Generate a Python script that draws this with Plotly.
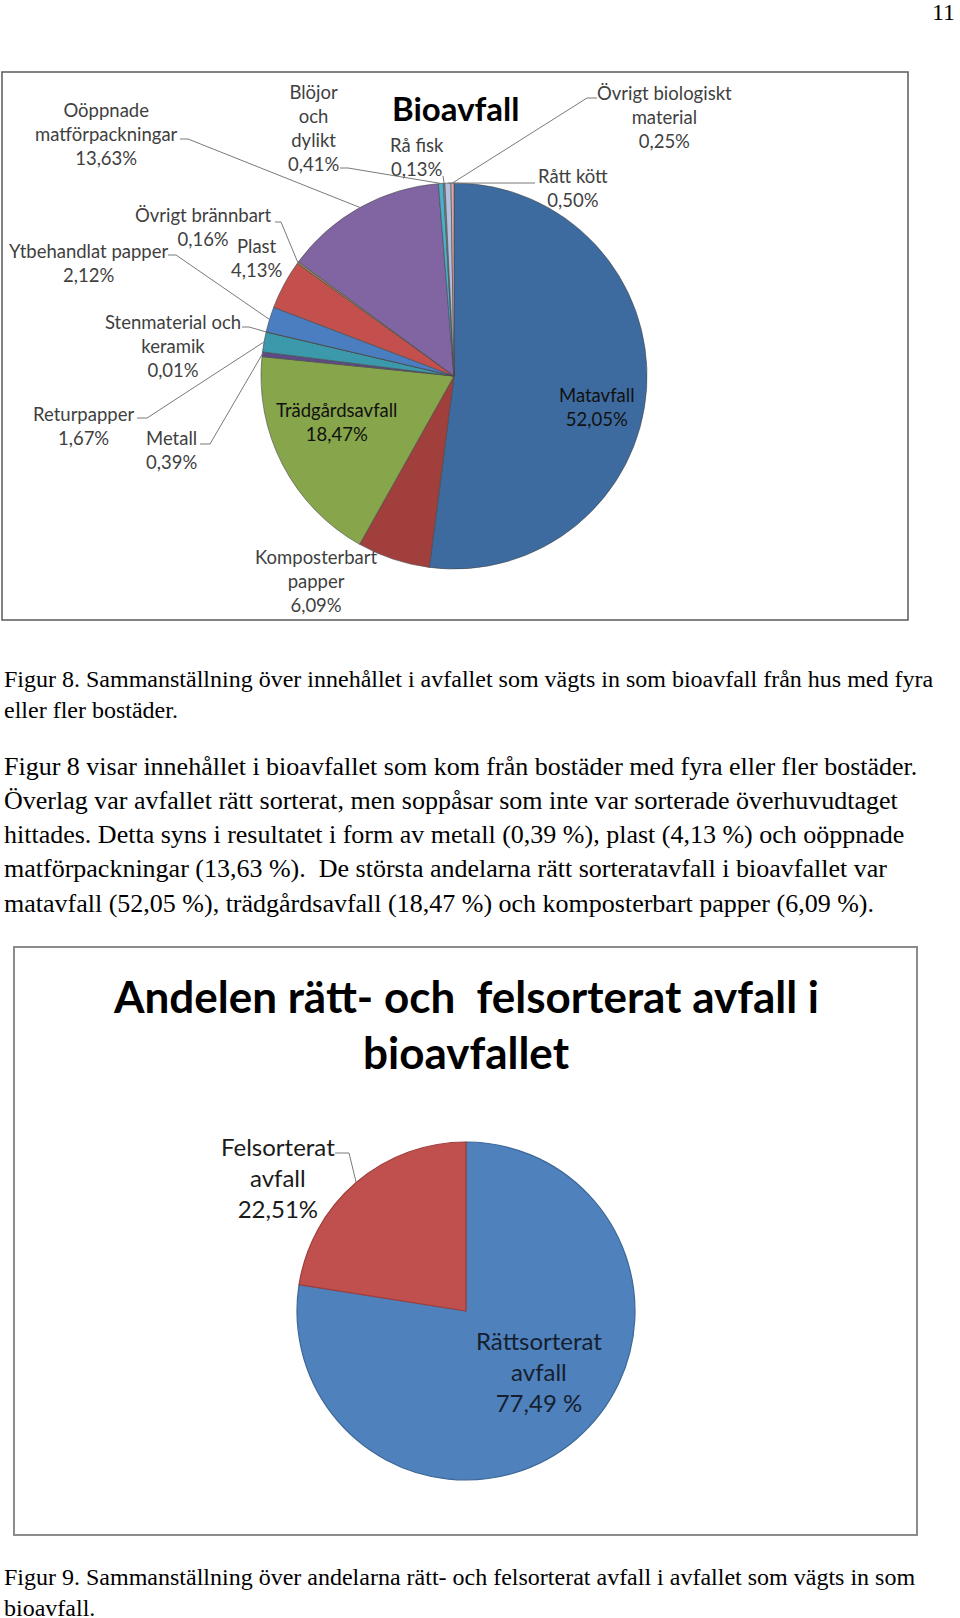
import math
import plotly.graph_objects as go

W, H = 960, 1618

# ---------------- data ----------------
bio_categories = [
    "Matavfall", "Komposterbart papper", "Trädgårdsavfall", "Metall", "Returpapper",
    "Stenmaterial och keramik", "Ytbehandlat papper", "Plast", "Övrigt brännbart",
    "Oöppnade matförpackningar", "Blöjor och dylikt", "Rå fisk", "Rått kött",
    "Övrigt biologiskt material",
]
bio_values = [52.05, 6.09, 18.47, 0.39, 1.67, 0.01, 2.12, 4.13, 0.16, 13.63, 0.41, 0.13, 0.50, 0.25]
bio_label_names = [
    "Matavfall", "Komposterbart<br>papper", "Trädgårdsavfall", "Metall", "Returpapper",
    "Stenmaterial och<br>keramik", "Ytbehandlat papper", "Plast", "Övrigt brännbart",
    "Oöppnade<br>matförpackningar", "Blöjor<br>och<br>dylikt", "Rå fisk", "Rått kött",
    "Övrigt biologiskt<br>material",
]
bio_colors = ["#3E6B9F", "#A13F3C", "#87A54B", "#5E4A86", "#3C98AB", "#E08D3C", "#4A7EC1",
              "#C3504D", "#9C8A4E", "#8065A2", "#4AAFC8", "#8E9398", "#B3C1DF", "#DDA9A8"]

sort_categories = ["Rättsorterat avfall", "Felsorterat avfall"]
sort_values = [77.49, 22.51]
sort_label_names = ["Rättsorterat<br>avfall", "Felsorterat<br>avfall"]
sort_pct_texts = ["77,49 %", "22,51%"]
sort_colors = ["#4F81BD", "#C0504D"]
sort_line_colors = ["#3D6796", "#9E3E3B"]

# ---------------- layout geometry (pixels) ----------------
TOP_C, TOP_R = (454, 376), 193
BOT_C, BOT_R = (466, 1311), 169


def px(x):
    return x / W


def py(y):
    return 1 - y / H


def dom(c, r):
    return dict(x=[px(c[0] - r), px(c[0] + r)], y=[py(c[1] + r), py(c[1] - r)])


def pct(v):
    return f"{v:.2f}".replace(".", ",") + "%"


def edge_point(values, i, c, r):
    tot = sum(values)
    start = sum(values[:i])
    mid = (start + values[i] / 2) / tot * 2 * math.pi
    return c[0] + r * math.sin(mid), c[1] - r * math.cos(mid)


fig = go.Figure()
fig.add_trace(go.Pie(
    labels=bio_categories, values=bio_values, sort=False, direction="clockwise",
    rotation=0, textinfo="none", showlegend=False, domain=dom(TOP_C, TOP_R),
    marker=dict(colors=bio_colors, line=dict(color="rgba(70,70,70,0.75)", width=0.8)),
))
fig.add_trace(go.Pie(
    labels=sort_categories, values=sort_values, sort=False, direction="clockwise",
    rotation=0, textinfo="none", showlegend=False, domain=dom(BOT_C, BOT_R),
    marker=dict(colors=sort_colors, line=dict(color=sort_line_colors, width=1.2)),
))

ann = []
shapes = []

LBL = "#3F3F3F"
# label block centers (pixels) for each top slice
bio_label_pos = {
    0: (597, 407), 1: (316, 581.5), 2: (337, 421.5), 3: (171, 450), 4: (83, 426.5),
    5: (173, 346), 6: (88, 262.5), 7: (256, 258), 8: (203, 227), 9: (106, 134.5),
    10: (313, 128), 11: (417, 157.5), 12: (573, 187.5), 13: (664, 117),
}
inside = {0, 2}
for i, (x, y) in bio_label_pos.items():
    ann.append(dict(
        x=px(x), y=py(y), xref="paper", yref="paper", showarrow=False,
        text=f"{bio_label_names[i]}<br>{pct(bio_values[i])}",
        font=dict(family="Lato", size=18.5, color="#111111" if i in inside else LBL),
        xanchor="center", yanchor="middle", align="center",
    ))

# leader line elbows (pixels); the end point comes from the slice geometry
bio_leaders = {
    9: [(180, 139), (188, 139)],
    10: [(340, 168), (348, 168)],
    11: [(443, 176)],
    13: [(597, 98), (587, 98)],
    12: [(535, 183)],
    8: [(275, 222), (281, 222)],
    6: [(168, 255), (176, 255)],
    5: [(242, 327), (249, 327)],
    4: [(137, 418), (147, 418)],
    3: [(200, 444), (210, 444)],
}


def leader_path(pts):
    d = "M " + " L ".join(f"{px(a)} {py(b)}" for a, b in pts)
    return dict(type="path", path=d, xref="paper", yref="paper",
                line=dict(color="#7A7A7A", width=1))


for i, pts in bio_leaders.items():
    ex, ey = edge_point(bio_values, i, TOP_C, TOP_R)
    shapes.append(leader_path(pts + [(ex, ey)]))

ann.append(dict(x=px(455), y=py(108), xref="paper", yref="paper", showarrow=False,
                text="<b>Bioavfall</b>", font=dict(family="Lato", size=33, color="#000000"),
                xanchor="center", yanchor="middle"))

# bottom pie labels
ann.append(dict(x=px(539), y=py(1371.5), xref="paper", yref="paper", showarrow=False,
                text=f"{sort_label_names[0]}<br>{sort_pct_texts[0]}",
                font=dict(family="Lato", size=24, color="#15202E"),
                xanchor="center", yanchor="middle", align="center"))
ann.append(dict(x=px(278), y=py(1177), xref="paper", yref="paper", showarrow=False,
                text=f"{sort_label_names[1]}<br>{sort_pct_texts[1]}",
                font=dict(family="Lato", size=24, color="#1A1A1A"),
                xanchor="center", yanchor="middle", align="center"))
ex, ey = edge_point(sort_values, 1, BOT_C, BOT_R)
shapes.append(leader_path([(335, 1153), (349, 1153), (ex, ey)]))

for txt, y in [("<b>Andelen rätt- och  felsorterat avfall i</b>", 996),
               ("<b>bioavfallet</b>", 1052)]:
    ann.append(dict(x=px(466), y=py(y), xref="paper", yref="paper", showarrow=False,
                    text=txt, font=dict(family="Lato", size=44, color="#000000"),
                    xanchor="center", yanchor="middle"))

# frames
shapes.append(dict(type="rect", xref="paper", yref="paper", x0=px(2), x1=px(908),
                   y0=py(620), y1=py(72), line=dict(color="#5A5A5A", width=1.5)))
shapes.append(dict(type="rect", xref="paper", yref="paper", x0=px(14), x1=px(917),
                   y0=py(1535), y1=py(947), line=dict(color="#8C8C8C", width=2)))

# page text
SERIF = "Liberation Serif"
text_lines = [
    ("Figur 8. Sammanställning över innehållet i avfallet som vägts in som bioavfall från hus med fyra", 679, 24),
    ("eller fler bostäder.", 710, 24),
    ("Figur 8 visar innehållet i bioavfallet som kom från bostäder med fyra eller fler bostäder.", 766, 26),
    ("Överlag var avfallet rätt sorterat, men soppåsar som inte var sorterade överhuvudtaget", 800, 26),
    ("hittades. Detta syns i resultatet i form av metall (0,39 %), plast (4,13 %) och oöppnade", 834, 26),
    ("matförpackningar (13,63 %).  De största andelarna rätt sorteratavfall i bioavfallet var", 868, 26),
    ("matavfall (52,05 %), trädgårdsavfall (18,47 %) och komposterbart papper (6,09 %).", 903, 26),
    ("Figur 9. Sammanställning över andelarna rätt- och felsorterat avfall i avfallet som vägts in som", 1577, 24),
    ("bioavfall.", 1608, 24),
]
for txt, y, s in text_lines:
    ann.append(dict(x=px(2), y=py(y), xref="paper", yref="paper", showarrow=False,
                    text=txt.replace("  ", "&nbsp; "), font=dict(family=SERIF, size=s, color="#000000"),
                    xanchor="left", yanchor="middle", align="left"))

ann.append(dict(x=px(957), y=py(12), xref="paper", yref="paper", showarrow=False,
                text="11", font=dict(family=SERIF, size=24, color="#000000"),
                xanchor="right", yanchor="middle"))

fig.update_layout(
    width=W, height=H, margin=dict(l=0, r=0, t=0, b=0),
    paper_bgcolor="white", plot_bgcolor="white",
    annotations=ann, shapes=shapes, showlegend=False,
)
fig.write_html(
    "out.html",
    config={"displayModeBar": False},
    post_script="document.body.style.margin='0';document.body.style.padding='0';"
                "document.documentElement.style.overflow='hidden';",
)
